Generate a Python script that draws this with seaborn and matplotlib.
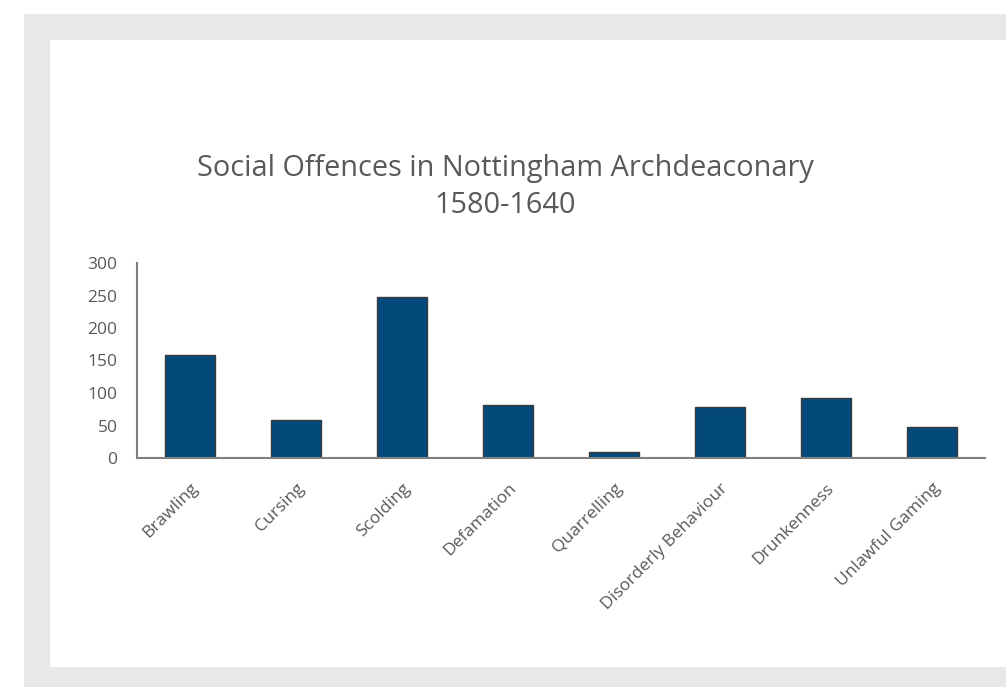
import matplotlib
matplotlib.use("Agg")
import matplotlib.pyplot as plt
from matplotlib.patches import Rectangle
import seaborn as sns
import pandas as pd

categories = ["Brawling", "Cursing", "Scolding", "Defamation", "Quarrelling",
              "Disorderly Behaviour", "Drunkenness", "Unlawful Gaming"]
counts = [158, 58, 248, 81, 9, 78, 93, 48]
y_ticks = [0, 50, 100, 150, 200, 250, 300]
title = "Social Offences in Nottingham Archdeaconary\n1580-1640"

sns.set_style("white")
plt.rcParams['font.family'] = ['Open Sans', 'DejaVu Sans']

W, H = 1006, 687
fig = plt.figure(figsize=(W / 100, H / 100), dpi=100)
fig.patch.set_facecolor("white")
fig.add_artist(Rectangle((24 / W, 0), 1 - 24 / W, 1 - 14 / H, transform=fig.transFigure,
                         facecolor="#e8e8e8", edgecolor="none", zorder=0))
fig.add_artist(Rectangle((50 / W, 20 / H), 1 - 50 / W, (667 - 40) / H, transform=fig.transFigure,
                         facecolor="white", edgecolor="none", zorder=0))

ax = fig.add_axes([137 / W, 1 - 458 / H, (985 - 137) / W, (458 - 263) / H])
ax.set_facecolor("none")
df = pd.DataFrame({"Offence": categories, "Count": counts})
sns.barplot(data=df, x="Offence", y="Count", ax=ax, color="#034a7b", width=0.47,
            edgecolor="#3a3a3a", linewidth=1.0, saturation=1)
ax.set_ylim(0, 300)
ax.set_xlim(-0.5, len(categories) - 0.5)
ax.set_yticks(y_ticks)
ax.set_yticklabels([str(v) for v in y_ticks], fontsize=12.5, color="#595959")
ax.set_xticks(range(len(categories)))
ax.set_xticklabels(categories, rotation=45, ha="right", rotation_mode="anchor",
                   fontsize=12.5, color="#595959")
ax.tick_params(axis="both", length=0)
ax.tick_params(axis="y", pad=14)
ax.tick_params(axis="x", pad=16)
ax.set_xlabel("")
ax.set_ylabel("")
for s in ["top", "right"]:
    ax.spines[s].set_visible(False)
ax.spines["left"].set_color("#7f7f7f")
ax.spines["bottom"].set_color("#7f7f7f")
ax.spines["left"].set_linewidth(1.5)
ax.spines["bottom"].set_linewidth(1.5)

fig.text(505 / W, 1 - 187 / H, title, ha="center", va="center", fontsize=20.8,
         color="#595959", linespacing=1.38)

fig.savefig("out.png", dpi=100)
